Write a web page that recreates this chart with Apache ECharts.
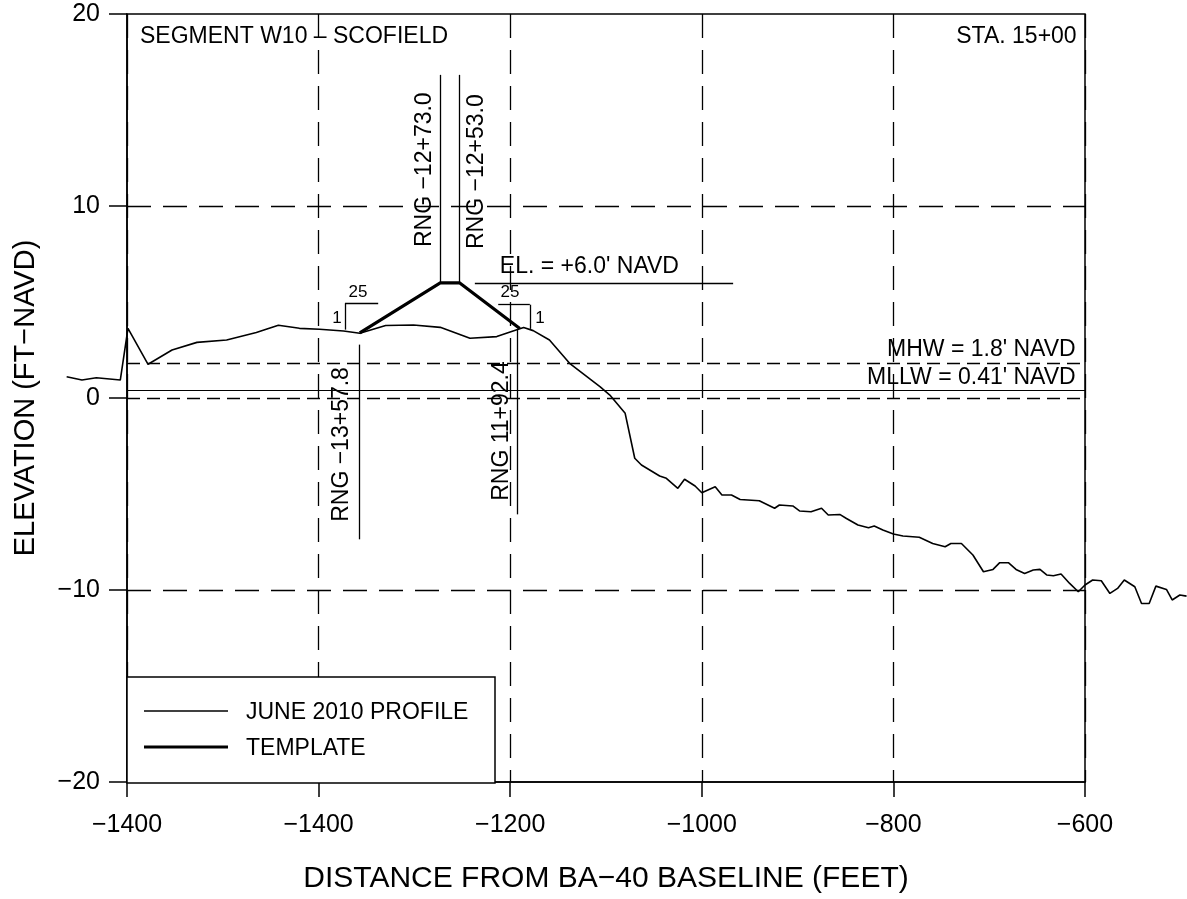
<!DOCTYPE html>
<html><head><meta charset="utf-8">
<script src="https://cdn.jsdelivr.net/npm/echarts@6/dist/echarts.min.js"></script>
<style>html,body{margin:0;padding:0;background:#fff}#c{width:1187px;height:899px}</style>
</head><body><div id="c"></div>
<script>
// ---------- data ----------
const xTickValues = [-1600, -1400, -1200, -1000, -800, -600];
const xTickLabels = ['−1400', '−1400', '−1200', '−1000', '−800', '−600'];
const yTickValues = [-20, -10, 0, 10, 20];
const yTickLabels = ['−20', '−10', '0', '10', '20'];
const xAxisTitle = 'DISTANCE FROM BA−40 BASELINE (FEET)';
const yAxisTitle = 'ELEVATION (FT−NAVD)';
const seriesNames = ['JUNE 2010 PROFILE', 'TEMPLATE'];

const profileX = [-1663, -1647, -1632, -1607, -1599, -1578, -1553, -1527, -1496, -1465, -1442, -1420, -1399, -1374, -1357,
  -1330, -1301, -1273, -1242, -1214, -1197, -1186, -1176, -1159, -1138, -1106, -1096, -1080, -1070, -1063,
  -1044, -1037, -1025, -1018, -1007, -1000, -986, -979, -969, -960, -940, -924, -919, -905, -898,
  -886, -875, -868, -856, -849, -837, -826, -820, -811, -800, -790, -773, -759, -746, -740,
  -729, -717, -706, -696, -689, -680, -672, -663, -654, -647, -640, -633, -625, -616, -607,
  -600, -592, -583, -574, -566, -559, -548, -541, -533, -526, -515, -509, -501, -494];
const profileY = [1.13, 0.96, 1.08, 0.96, 3.65, 1.78, 2.52, 2.92, 3.04, 3.43, 3.81, 3.65, 3.60, 3.51, 3.39,
  3.80, 3.82, 3.70, 3.13, 3.22, 3.51, 3.69, 3.53, 3.04, 1.83, 0.61, 0.18, -0.77, -3.11, -3.46,
  -4.03, -4.15, -4.67, -4.20, -4.55, -4.90, -4.59, -5.02, -5.02, -5.25, -5.32, -5.71, -5.54, -5.59, -5.85,
  -5.89, -5.71, -6.06, -6.03, -6.24, -6.58, -6.72, -6.63, -6.84, -7.05, -7.15, -7.22, -7.54, -7.71, -7.54,
  -7.54, -8.14, -9.01, -8.89, -8.54, -8.54, -8.89, -9.10, -8.92, -8.89, -9.18, -9.22, -9.13, -9.62, -10.05,
  -9.70, -9.44, -9.48, -10.14, -9.88, -9.44, -9.79, -10.66, -10.66, -9.76, -9.93, -10.48, -10.22, -10.28];

const templateX = [-1357, -1273, -1253, -1190];
const templateY = [3.39, 6.0, 6.0, 3.62];

// reference levels
const gridLevelsLong = [10, -10];
const gridLevelsShort = [0];
const mhwLevel = 1.8;
const mllwLevel = 0.41;

// annotation segments in data units: [x1, y1, x2, y2]
const annotationSegments = [
  [-1357.8, 2.78, -1357.8, -7.36],   // RNG -13+57.8
  [-1193.0, 3.56, -1193.0, -6.06],   // RNG 11+92.4
  [-1273.0, 6.0, -1273.0, 16.83],    // RNG -12+73.0
  [-1253.0, 6.0, -1253.0, 16.83],    // RNG -12+53.0
  [-1236.9, 6.0, -967.3, 6.0],       // EL leader
  [-1372.5, 3.56, -1372.5, 4.92],    // left slope bracket
  [-1372.5, 4.92, -1337.8, 4.92],
  [-1212.5, 4.86, -1179.5, 4.86],    // right slope bracket
  [-1179.5, 4.86, -1179.5, 3.60]
];

// annotation texts and anchors in data units
const annoTexts = ['SEGMENT W10 – SCOFIELD', 'STA. 15+00', 'RNG −12+73.0', 'RNG −12+53.0', "EL. = +6.0' NAVD",
  "MHW = 1.8' NAVD", "MLLW = 0.41' NAVD", 'RNG −13+57.8', 'RNG 11+92.4', '25', '1', '25', '1'];
const annoX = [-1586.4, -608.7, -1289.0, -1235.1, -1210.8, -609.7, -609.7, -1375.6, -1208.7, -1358.9, -1380.9, -1200.3, -1169.0];
const annoY = [18.81, 18.81, 11.89, 11.79, 6.84, 2.52, 1.07, -2.42, -1.72, 5.49, 4.14, 5.49, 4.14];

// ---------- layout & styling ----------
const FONT = '"Liberation Sans", Arial, sans-serif';
const CHART_W = 1187, PLOT_LEFT = 127, PLOT_RIGHT = 102, PLOT_TOP = 14, PLOT_BOTTOM = 116;
const X_MIN = -1600, X_MAX = -600;
const pxPerFt = (CHART_W - PLOT_LEFT - PLOT_RIGHT) / (X_MAX - X_MIN);
// a hidden full-width axis with the same scale, so the profile may run past the frame
const X2_MIN = X_MIN - PLOT_LEFT / pxPerFt;
const X2_MAX = X_MAX + PLOT_RIGHT / pxPerFt;

const annoStyle = [
  {align: 'left'}, {align: 'right'}, {rot: true}, {rot: true}, {align: 'left'},
  {align: 'right'}, {align: 'right'}, {rot: true}, {rot: true},
  {small: true}, {small: true}, {small: true}, {small: true}
];

const zip = (a, b) => a.map((v, i) => [v, b[i]]);

const markData = [];
gridLevelsLong.forEach(v => markData.push({yAxis: v, lineStyle: {color: '#000', width: 1.3, type: [24, 12]}}));
gridLevelsShort.forEach(v => markData.push({yAxis: v, lineStyle: {color: '#000', width: 1.3, type: [13, 7]}}));
markData.push({yAxis: mhwLevel, lineStyle: {color: '#000', width: 1.3, type: [13, 7]}});
markData.push({yAxis: mllwLevel, lineStyle: {color: '#000', width: 1.2, type: 'solid'}});
annotationSegments.forEach(s => markData.push([
  {coord: [s[0], s[1]], lineStyle: {color: '#000', width: 1.3, type: 'solid'}},
  {coord: [s[2], s[3]]}
]));

const chart = echarts.init(document.getElementById('c'), null, {renderer: 'canvas'});
const option = {
  animation: false,
  backgroundColor: '#fff',
  textStyle: {fontFamily: FONT},
  grid: [
    {left: PLOT_LEFT, right: PLOT_RIGHT, top: PLOT_TOP, bottom: PLOT_BOTTOM, show: true, borderColor: '#000', borderWidth: 1.5, backgroundColor: 'transparent'},
    {left: 0, right: 0, top: PLOT_TOP, bottom: PLOT_BOTTOM, show: false}
  ],
  xAxis: [{
    type: 'value', gridIndex: 0, min: X_MIN, max: X_MAX, interval: 200,
    axisLine: {show: true, onZero: false, lineStyle: {color: '#000', width: 1.5}},
    axisTick: {show: true, length: 15, lineStyle: {color: '#000', width: 1.5}},
    axisLabel: {margin: 31, color: '#000', fontFamily: FONT, fontSize: 25,
      formatter: v => { const i = xTickValues.indexOf(v); return i >= 0 ? xTickLabels[i] : ''; }},
    splitLine: {show: true, lineStyle: {color: '#000', width: 1.3, type: [24, 12]}},
    name: xAxisTitle, nameLocation: 'middle', nameGap: 82,
    nameTextStyle: {fontFamily: FONT, fontSize: 30, color: '#000'}
  }, {
    type: 'value', gridIndex: 1, min: X2_MIN, max: X2_MAX, show: false
  }],
  yAxis: [{
    type: 'value', gridIndex: 0, min: -20, max: 20, interval: 10,
    axisLine: {show: true, onZero: false, lineStyle: {color: '#000', width: 1.5}},
    axisTick: {show: true, length: 18, lineStyle: {color: '#000', width: 1.5}},
    axisLabel: {margin: 27, color: '#000', fontFamily: FONT, fontSize: 25,
      formatter: v => { const i = yTickValues.indexOf(v); return i >= 0 ? yTickLabels[i] : ''; }},
    splitLine: {show: false},
    name: yAxisTitle, nameLocation: 'middle', nameGap: 87,
    nameTextStyle: {fontFamily: FONT, fontSize: 29, color: '#000'}
  }, {
    type: 'value', gridIndex: 1, min: -20, max: 20, show: false
  }],
  series: [
    {
      name: seriesNames[0], type: 'line', xAxisIndex: 1, yAxisIndex: 1, data: zip(profileX, profileY),
      showSymbol: false, symbol: 'none', clip: false, silent: true, z: 3,
      lineStyle: {color: '#000', width: 1.6}
    },
    {
      name: seriesNames[1], type: 'line', xAxisIndex: 0, yAxisIndex: 0, data: zip(templateX, templateY),
      showSymbol: false, symbol: 'none', silent: true, z: 4,
      lineStyle: {color: '#000', width: 3.2},
      markLine: {symbol: 'none', silent: true, animation: false, label: {show: false}, data: markData}
    }
  ]
};
chart.setOption(option);

// annotations placed through the chart's own scales
const graphics = [];
annoTexts.forEach((t, i) => {
  const p = chart.convertToPixel({xAxisIndex: 0, yAxisIndex: 0}, [annoX[i], annoY[i]]);
  const st = annoStyle[i];
  graphics.push({
    type: 'text', x: p[0], y: p[1], rotation: st.rot ? Math.PI / 2 : 0, silent: true, z: 10,
    style: {text: t, fill: '#000', font: (st.small ? '17px ' : '23px ') + FONT,
      align: st.align || 'center', verticalAlign: 'middle'}
  });
});
// legend box
graphics.push({type: 'rect', shape: {x: 127, y: 677, width: 368, height: 106}, silent: true, z: 10,
  style: {fill: '#fff', stroke: '#000', lineWidth: 1.5}});
graphics.push({type: 'line', shape: {x1: 144, y1: 711, x2: 228, y2: 711}, silent: true, z: 11, style: {stroke: '#000', lineWidth: 1.6}});
graphics.push({type: 'text', x: 246, y: 713, silent: true, z: 11, style: {text: seriesNames[0], fill: '#000', font: '23px ' + FONT, align: 'left', verticalAlign: 'middle'}});
graphics.push({type: 'line', shape: {x1: 144, y1: 747, x2: 228, y2: 747}, silent: true, z: 11, style: {stroke: '#000', lineWidth: 3.2}});
graphics.push({type: 'text', x: 246, y: 749, silent: true, z: 11, style: {text: seriesNames[1], fill: '#000', font: '23px ' + FONT, align: 'left', verticalAlign: 'middle'}});
chart.setOption({graphic: graphics});
</script></body></html>
